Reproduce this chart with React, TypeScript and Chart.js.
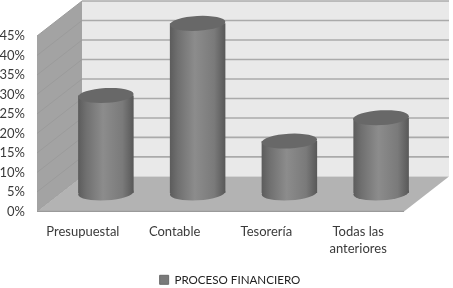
import React, { useEffect, useRef } from "react";
import { Chart, registerables } from "chart.js";

Chart.register(...registerables);

const categories: (string | string[])[] = ["Presupuestal", "Contable", "Tesorería", ["Todas las", "anteriores"]];
const seriesName = "PROCESO FINANCIERO";
const values = [25, 43.5, 13.3, 19.3];

const DEPTH_X = 45;
const DEPTH_Y = 35;
const BAR_SHIFT_X = 23;
const BAR_SHIFT_Y = -18.5;
const ELLIPSE_RY = 7.4;
const TILT = -0.055;
const LEGEND_SHIFT_X = 28;
const LEGEND_CENTER_Y = 278;

function sideGradient(ctx: CanvasRenderingContext2D, x: number, w: number) {
  const g = ctx.createLinearGradient(x - w / 2, 0, x + w / 2, 0);
  g.addColorStop(0, "#5c5c5c");
  g.addColorStop(0.14, "#6f6f6f");
  g.addColorStop(0.45, "#8c8c8c");
  g.addColorStop(0.8, "#7a7a7a");
  g.addColorStop(1, "#585858");
  return g;
}

const box3d = {
  id: "box3d",
  afterLayout(chart: any) {
    const lg = chart.legend;
    lg.left += LEGEND_SHIFT_X;
    lg.right += LEGEND_SHIFT_X;
    const h = lg.bottom - lg.top;
    lg.top = LEGEND_CENTER_Y - 7;
    lg.bottom = lg.top + h;
  },
  beforeDatasetsDraw(chart: any) {
    const { ctx, chartArea: a, scales } = chart;
    const { left, right, top, bottom } = a;
    ctx.save();
    // back wall
    ctx.fillStyle = "#e9e9e9";
    ctx.fillRect(left + DEPTH_X, top - DEPTH_Y, right - left, bottom - top);
    // left wall
    ctx.fillStyle = "#a3a3a3";
    ctx.beginPath();
    ctx.moveTo(left, top);
    ctx.lineTo(left + DEPTH_X, top - DEPTH_Y);
    ctx.lineTo(left + DEPTH_X, bottom - DEPTH_Y);
    ctx.lineTo(left, bottom);
    ctx.closePath();
    ctx.fill();
    // grid lines from the value axis
    for (const t of scales.y.ticks) {
      const y = scales.y.getPixelForValue(t.value);
      if (t.value > 0) {
        ctx.strokeStyle = "#aaaaaa";
        ctx.lineWidth = 1.6;
        ctx.beginPath();
        ctx.moveTo(left + DEPTH_X, y - DEPTH_Y);
        ctx.lineTo(right + DEPTH_X, y - DEPTH_Y);
        ctx.stroke();
      }
      ctx.strokeStyle = "#9b9b9b";
      ctx.lineWidth = 1;
      ctx.beginPath();
      ctx.moveTo(left, y);
      ctx.lineTo(left + DEPTH_X, y - DEPTH_Y);
      ctx.stroke();
    }
    // floor
    ctx.fillStyle = "#b3b3b3";
    ctx.beginPath();
    ctx.moveTo(left, bottom);
    ctx.lineTo(right, bottom);
    ctx.lineTo(right + DEPTH_X, bottom - DEPTH_Y);
    ctx.lineTo(left + DEPTH_X, bottom - DEPTH_Y);
    ctx.closePath();
    ctx.fill();
    ctx.strokeStyle = "#9a9a9a";
    ctx.lineWidth = 1.2;
    ctx.beginPath();
    ctx.moveTo(left, bottom);
    ctx.lineTo(right, bottom);
    ctx.stroke();
    ctx.restore();
  },
  beforeDatasetDraw(chart: any) {
    chart.ctx.save();
    chart.ctx.translate(BAR_SHIFT_X, BAR_SHIFT_Y);
  },
  afterDatasetDraw(chart: any) {
    const { ctx } = chart;
    for (const bar of chart.getDatasetMeta(0).data) {
      ctx.fillStyle = sideGradient(ctx, bar.x, bar.width);
      ctx.beginPath();
      ctx.ellipse(bar.x, bar.base, bar.width / 2, ELLIPSE_RY, TILT, 0, Math.PI * 2);
      ctx.fill();
      ctx.fillStyle = "#686868";
      ctx.beginPath();
      ctx.ellipse(bar.x, bar.y, bar.width / 2, ELLIPSE_RY, TILT, 0, Math.PI * 2);
      ctx.fill();
    }
    ctx.restore();
  },
};

export default function App() {
  const ref = useRef<HTMLCanvasElement>(null);
  useEffect(() => {
    const chart = new Chart(ref.current!, {
      type: "bar",
      data: {
        labels: categories as any,
        datasets: [
          {
            label: seriesName,
            data: values,
            barPercentage: 1,
            categoryPercentage: 0.605,
            backgroundColor: (c: any) => {
              const sc = c.chart.scales.x;
              if (!sc) return "#7f7f7f";
              const w = ((sc.right - sc.left) / categories.length) * 0.605;
              return sideGradient(c.chart.ctx, sc.getPixelForTick(c.dataIndex ?? 0), w);
            },
          } as any,
        ],
      },
      options: {
        responsive: false,
        animation: false,
        layout: { padding: { top: 36, right: 49, left: 0, bottom: 0 } },
        clip: false as any,
        scales: {
          x: {
            grid: { display: false },
            border: { display: false },
            ticks: {
              color: "#3a3a3a",
              font: { family: "Lato", size: 13, lineHeight: 1.38 },
              padding: 3,
              maxRotation: 0,
              autoSkip: false,
            },
            afterFit: (s: any) => {
              s.height = 52;
            },
          },
          y: {
            min: 0,
            max: 45,
            grid: { display: false },
            border: { display: false },
            ticks: {
              stepSize: 5,
              color: "#3a3a3a",
              font: { family: "Lato", size: 13 },
              padding: 4,
              callback: (v: any) => `${v}%`,
            },
            afterFit: (s: any) => {
              s.width = 37;
            },
          },
        },
        plugins: {
          tooltip: { enabled: false },
          legend: {
            position: "bottom",
            labels: {
              boxWidth: 9,
              boxHeight: 9,
              padding: 3,
              color: "#222222",
              font: { family: "Lato", size: 11.6 },
              generateLabels: () => [
                { text: seriesName, fillStyle: "#7a7a7a", strokeStyle: "#6a6a6a", lineWidth: 1, datasetIndex: 0, fontColor: "#222222" } as any,
              ],
            },
          },
        },
      },
      plugins: [box3d as any],
    });
    return () => chart.destroy();
  }, []);
  return (
    <div style={{ position: "fixed", left: 0, top: 0, width: 453, height: 288, background: "#fff" }}>
      <canvas ref={ref} width={453} height={288} style={{ display: "block" }} />
    </div>
  );
}
